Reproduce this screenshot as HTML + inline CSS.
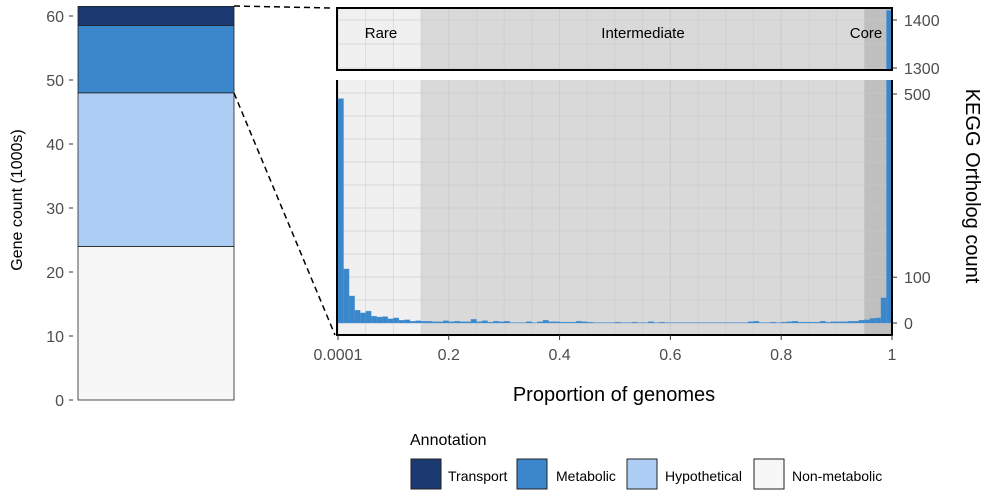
<!DOCTYPE html>
<html><head><meta charset="utf-8"><style>
body{margin:0;background:#fff;font-family:"Liberation Sans",Arial,sans-serif}
svg text{font-family:"Liberation Sans",Arial,sans-serif}
</style></head><body>
<svg id="c" width="994" height="495" xmlns="http://www.w3.org/2000/svg"></svg>
<script>
const stackCats=["Non-metabolic","Hypothetical","Metabolic","Transport"];
const stackVals=[24,24,10.5,3];
const stackColors=["#f7f7f7","#aecdf5","#3a87cc","#1c3a72"];
const leftTicks=[0,10,20,30,40,50,60];
const histVals=[490,118,59,28,22,26,15,13,14,9,11,6,7,4,5,4,4,3,3,5,3,4,3,3,8,3,5,2,4,3,4,1,1,1,3,1,3,6,3,3,2,2,2,4,3,2,1,1,1,1,2,1,1,2,1,1,3,1,2,1,1,1,1,1,1,1,1,1,1,1,1,1,1,1,3,4,1,1,2,1,2,3,4,2,2,2,2,4,2,3,3,3,4,4,6,7,10,11,55,1420];
const xTicks=[0.0001,0.2,0.4,0.6,0.8,1];
const xTickLabels=["0.0001","0.2","0.4","0.6","0.8","1"];
const lowTicks=[0,100,500];
const highTicks=[1300,1400];
const regions=[["Rare",0,0.15,"#f0f0f0"],["Intermediate",0.15,0.95,"#d9d9d9"],["Core",0.95,1,"#bfbfbf"]];

const S=document.getElementById('c');const NS="http://www.w3.org/2000/svg";
function el(t,a,p){const e=document.createElementNS(NS,t);for(const k in a)e.setAttribute(k,a[k]);(p||S).appendChild(e);return e;}
function tx(x,y,s,o){const e=el('text',Object.assign({x:x,y:y,'font-size':16,fill:'#4d4d4d'},o||{}));e.textContent=s;return e;}
const ly=v=>400-v*6.4;
let cum=0;
stackVals.forEach((v,i)=>{const r=el('rect',{x:78,y:ly(cum+v),width:156,height:v*6.4,fill:stackColors[i],stroke:'#222','stroke-width':0.8});

cum+=v;});
leftTicks.forEach(t=>{el('line',{x1:69,x2:73,y1:ly(t),y2:ly(t),stroke:'#333'});tx(64,ly(t)+6,String(t),{'text-anchor':'end'});});
tx(22,200,'Gene count (1000s)',{transform:'rotate(-90 22 200)','text-anchor':'middle','font-size':16,fill:'#000'});
const X0=338,X1=892;const xs=v=>X0+(v-0.0001)/(1-0.0001)*(X1-X0);
const yl=v=>323-v*0.458;const yh=v=>68-(v-1300)*0.48;
function panel(top,bot,yfun,ticks,clipId,hstep,hstart){
 regions.forEach(r=>el('rect',{x:xs(r[1]),y:top,width:xs(r[2])-xs(r[1]),height:bot-top,fill:r[3]}));
 for(let y=hstart;y>top;y-=hstep){el('line',{x1:X0,x2:X1,y1:y,y2:y,stroke:'#c8c8c8','stroke-width':1,opacity:0.6});}
 for(let k=0;k<=20;k++){const g=k/20;el('line',{x1:xs(g),x2:xs(g),y1:top,y2:bot,stroke:'#c8c8c8','stroke-width':k%4==0?1.2:0.8,opacity:0.6});}
 const cp=el('clipPath',{id:clipId});el('rect',{x:X0-2,y:top,width:X1-X0+4,height:bot-top},cp);
 const g=el('g',{'clip-path':'url(#'+clipId+')'});
 const bw=(X1-X0)/histVals.length;
 const base=yfun===yl?323:bot+10;
 histVals.forEach((v,i)=>{const y=yfun(v);const b=el('rect',{x:X0+i*bw,y:y,width:bw,height:Math.max(0,base-y),fill:'#3a87cc',stroke:'#5a9ad6','stroke-width':0.3},g);
 
 });
 ticks.forEach(t=>{el('line',{x1:X1,x2:X1+5,y1:yfun(t),y2:yfun(t),stroke:'#333'});tx(904,yfun(t)+6,String(t));});
}
panel(8,70,yh,highTicks,'ch',24,68);
panel(80,335,yl,lowTicks,'cl',23,323);
el('rect',{x:337,y:8,width:555,height:62,fill:'none',stroke:'#000','stroke-width':2});
el('polyline',{points:'337,80 337,335 892,335 892,80',fill:'none',stroke:'#000','stroke-width':2});
tx(381,38,'Rare',{fill:'#000','font-size':15,'text-anchor':'middle'});
tx(643,38,'Intermediate',{fill:'#000','font-size':15,'text-anchor':'middle'});
tx(866,38,'Core',{fill:'#000','font-size':15,'text-anchor':'middle'});
xTicks.forEach((t,i)=>{el('line',{x1:xs(t),x2:xs(t),y1:335,y2:340,stroke:'#333'});tx(xs(t),360,xTickLabels[i],{'text-anchor':'middle'});});
tx(614,401,'Proportion of genomes',{'text-anchor':'middle','font-size':20,fill:'#000'});
tx(966,186,'KEGG Ortholog count',{transform:'rotate(90 966 186)','text-anchor':'middle','font-size':20,fill:'#000'});
el('line',{x1:234,y1:6,x2:333,y2:8,stroke:'#000','stroke-width':1.5,'stroke-dasharray':'6,4'});
el('line',{x1:234,y1:93,x2:335,y2:335,stroke:'#000','stroke-width':1.5,'stroke-dasharray':'6,4'});
tx(410,445,'Annotation',{fill:'#000','font-size':16});
const leg=[["Transport",411,448],["Metabolic",517,556],["Hypothetical",627,665],["Non-metabolic",754,792]];
const lc=["#1c3a72","#3a87cc","#aecdf5","#f7f7f7"];
leg.forEach((l,i)=>{const r=el('rect',{x:l[1],y:459,width:30,height:30,fill:lc[i],stroke:'#222'});


tx(l[2],481,l[0],{fill:'#000','font-size':14});});
</script>
</body></html>
